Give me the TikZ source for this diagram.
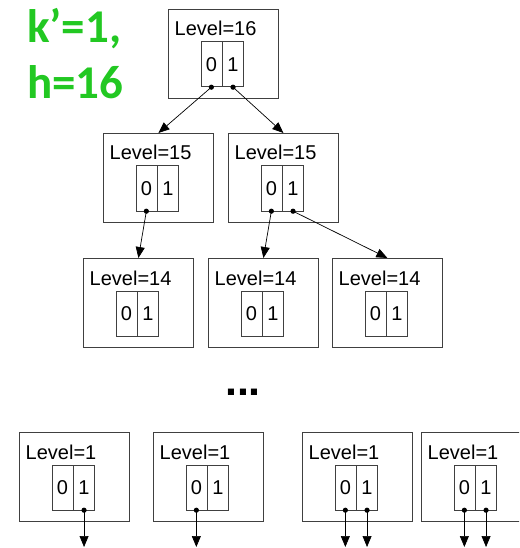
\documentclass[tikz,border=0pt]{standalone}
\usepackage{fontspec}
\setmainfont{Liberation Sans}
\newfontfamily\calfont{Carlito}
\usepackage{xcolor}
\usepackage{tikz}
\usetikzlibrary{arrows.meta, positioning, calc}
\definecolor{kgreen}{RGB}{34,200,34}

\begin{document}
\begin{tikzpicture}[
      x=1pt, y=-1pt,
      lvbox/.style={draw=black!75, line width=0.8pt, minimum width=110pt, minimum height=89pt, anchor=north west, inner sep=0pt},
      lvtext/.style={anchor=base west, inner sep=0pt, font=\fontsize{20}{24}\selectfont},
      halfcell/.style={draw=black!75, line width=0.7pt, minimum width=21pt, minimum height=45pt, inner sep=0pt, anchor=north west, font=\fontsize{20}{24}\selectfont},
      ptr/.style={line width=0.7pt, -{Triangle[length=11pt, width=9pt]}}
    ]
      \useasboundingbox (0,0) rectangle (519,548);
      \clip (0,0) rectangle (519,548);

      \node[anchor=base west, inner sep=0pt, text=kgreen, font=\calfont\bfseries\fontsize{47}{56}\selectfont] (kval) at (27,43) {k’=1,};
      \node[anchor=base west, inner sep=0pt, text=kgreen, font=\calfont\bfseries\fontsize{47}{56}\selectfont] (hval) at (27,99) {h=16};

      \foreach \n/\x/\y/\l in {a/168/9/16, b/103/133/15, c/228/133/15,
                               d/83/258/14, e/208/258/14, f/332/258/14,
                               g/19/432/1, h/153/432/1, i/302/432/1, j/421/432/1} {
        \node[lvbox] (\n) at (\x,\y) {};
        \node[lvtext] (\n t) at ($(\n.north west)+(6.5,27)$) {Level=\l};
        \node[halfcell] (\n0) at ($(\n.north west)+(32.5,32.5)$) {0};
        \node[halfcell, right=0pt of \n0] (\n1) {1};
      }

      \node[anchor=base, inner sep=0pt, font=\bfseries\fontsize{43}{43}\selectfont] (more) at (243,395) {...};

      % pointers between levels
      \foreach \p in {a0, a1, b0, c0, c1, g1, h0, i0, i1, j0, j1}
        \fill (\p.south) circle (2.6pt);
      \draw[ptr] (a0.south) -- (b.north);
      \draw[ptr] (a1.south) -- (c.north);
      \draw[ptr] (b0.south) -- (d.north);
      \draw[ptr] (c0.south) -- (e.north);
      \draw[ptr] (c1.south) -- (f.north);

      \foreach \p in {g1, h0, i0, i1, j0, j1} {
        \coordinate (\p end) at (\p.south |- 0,547);
        \draw[ptr] (\p.south) -- (\p end);
      }
    \end{tikzpicture}
\end{document}
